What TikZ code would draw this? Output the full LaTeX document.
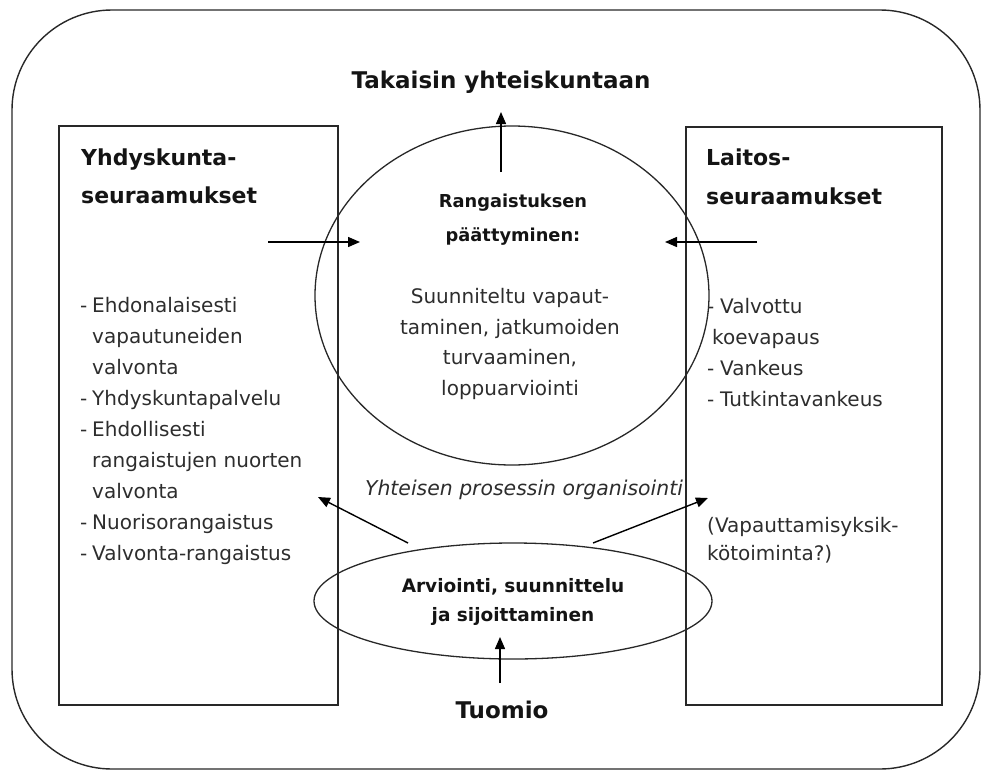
\documentclass[tikz,border=0pt]{standalone}
\usepackage{fontspec}
\setmainfont{DejaVu Sans}
\usetikzlibrary{arrows.meta,shapes.geometric}
\definecolor{txtgray}{RGB}{45,45,45}
\definecolor{headblack}{RGB}{20,20,20}
\definecolor{linegray}{RGB}{40,40,40}
\begin{document}
\begin{tikzpicture}[x=1pt,y=-1pt,
  frame/.style={draw=linegray, line width=1.4pt, inner sep=0pt},
  body/.style={font=\fontsize{20}{31}\selectfont, text=txtgray, inner sep=0pt, anchor=base west},
  cbody/.style={font=\fontsize{20}{31}\selectfont, text=txtgray, inner sep=0pt, anchor=base},
  listdash/.style={font=\fontsize{20}{31}\selectfont, text=txtgray, inner sep=0pt, anchor=base west},
  head/.style={font=\bfseries\fontsize{22}{38}\selectfont, text=headblack, inner sep=0pt, anchor=base west},
  chead/.style={font=\bfseries\fontsize{17.8}{30}\selectfont, text=headblack, inner sep=0pt, anchor=base},
  ehead/.style={font=\bfseries\fontsize{18.5}{30}\selectfont, text=headblack, inner sep=0pt, anchor=base},
  bighead/.style={font=\bfseries\fontsize{23}{30}\selectfont, text=headblack, inner sep=0pt, anchor=base},
  arr/.style={-{Triangle[length=12pt,width=10pt]}, line width=1.4pt, draw=black}
]
\useasboundingbox (0,0) rectangle (986,772);

% outer rounded frame
\node (outer) [frame, rounded corners=100pt, minimum width=968pt, minimum height=759pt] at (496,389.5) {};

% side boxes
\node (lbox) [frame, minimum width=279pt, minimum height=579pt] at (198.5,415.5) {};
\node (rbox) [frame, minimum width=256pt, minimum height=578pt] at (814,416) {};

% central circle and bottom ellipse
\node (circ) [draw=linegray, line width=1.3pt, ellipse, inner sep=0pt, minimum width=394pt, minimum height=339pt] at (512,295.5) {};
\node (ell) [draw=linegray, line width=1.3pt, ellipse, inner sep=0pt, minimum width=398pt, minimum height=116pt] at (513,601) {};

% title and Tuomio
\node (title) [bighead] at (501,88) {Takaisin yhteiskuntaan};
\node (tuomio) [bighead] at (502,718) {Tuomio};

% headings
\node (lh1) [head] at (81,165) {Yhdyskunta-};
\node (lh2) [head] at (81,203) {seuraamukset};
\node (rh1) [head] at (706,165) {Laitos-};
\node (rh2) [head] at (706,204) {seuraamukset};

% left list
\node (ld1) [listdash] at (80,312) {-};
\node (l1) [body] at (92,312) {Ehdonalaisesti};
\node (l2) [body] at (92,343) {vapautuneiden};
\node (l3) [body] at (92,374) {valvonta};
\node (ld2) [listdash] at (80,405) {-};
\node (l4) [body] at (92,405) {Yhdyskuntapalvelu};
\node (ld3) [listdash] at (80,436) {-};
\node (l5) [body] at (92,436) {Ehdollisesti};
\node (l6) [body] at (92,467) {rangaistujen nuorten};
\node (l7) [body] at (92,498) {valvonta};
\node (ld4) [listdash] at (80,529) {-};
\node (l8) [body] at (92,529) {Nuorisorangaistus};
\node (ld5) [listdash] at (80,560) {-};
\node (l9) [body] at (92,560) {Valvonta-rangaistus};

% right list
\node (rd1) [listdash] at (707,313) {-};
\node (r1) [body] at (720,313) {Valvottu};
\node (r2) [body] at (712,344) {koevapaus};
\node (rd2) [listdash] at (707,375) {-};
\node (r3) [body] at (720,375) {Vankeus};
\node (rd3) [listdash] at (707,406) {-};
\node (r4) [body] at (720,406) {Tutkintavankeus};
\node (r5) [body] at (707,532) {(Vapauttamisyksik-};
\node (r6) [body] at (707,560) {kötoiminta?)};

% circle text
\node (c1) [chead] at (513,207) {Rangaistuksen};
\node (c2) [chead] at (513,241) {päättyminen:};
\node (c3) [cbody] at (510,303) {Suunniteltu vapaut-};
\node (c4) [cbody] at (510,334) {taminen, jatkumoiden};
\node (c5) [cbody] at (510,364) {turvaaminen,};
\node (c6) [cbody] at (510,395) {loppuarviointi};

% ellipse text
\node (e1) [ehead] at (513,592) {Arviointi, suunnittelu};
\node (e2) [ehead] at (513,621) {ja sijoittaminen};

% italic label
\node (org) [font=\itshape\fontsize{20.4}{30}\selectfont, text=txtgray, inner sep=0pt, anchor=base] at (524,495) {Yhteisen prosessin organisointi};

% arrow end points
\coordinate (upA) at (501,172);
\coordinate (upB) at (501,112);
\coordinate (lA) at (268,242);
\coordinate (lB) at (360,242);
\coordinate (rA) at (757,242);
\coordinate (rB) at (665,242);
\coordinate (tA) at (500,683);
\coordinate (tB) at (500,637);
\coordinate (dlA) at (408,543);
\coordinate (dlB) at (318,497);
\coordinate (drA) at (593,543);
\coordinate (drB) at (708,498);

\draw[arr] (upA) -- (upB);
\draw[arr] (lA) -- (lB);
\draw[arr] (rA) -- (rB);
\draw[arr] (tA) -- (tB);
\draw[arr] (dlA) -- (dlB);
\draw[arr] (drA) -- (drB);
\end{tikzpicture}
\end{document}
